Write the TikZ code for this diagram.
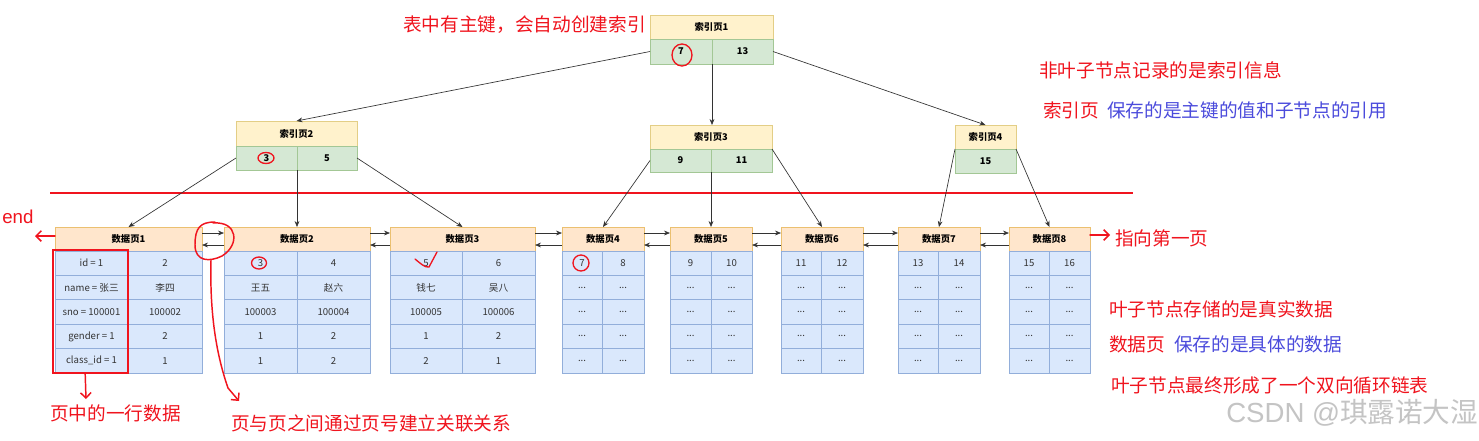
\documentclass[tikz,border=0pt]{standalone}
\usepackage{fontspec}
\setmainfont{Noto Sans CJK SC}
\newfontfamily\arialf{Liberation Sans}
\usetikzlibrary{arrows.meta}
\definecolor{ihfill}{HTML}{FFF2CC}
\definecolor{ihdraw}{HTML}{E3CE86}
\definecolor{ibfill}{HTML}{D5E8D4}
\definecolor{ibdraw}{HTML}{A3C795}
\definecolor{dhfill}{HTML}{FFE6CC}
\definecolor{dhdraw}{HTML}{EBC070}
\definecolor{dcfill}{HTML}{DAE8FC}
\definecolor{dcdraw}{HTML}{92AEDA}
\definecolor{annred}{HTML}{F0141E}
\definecolor{annblue}{HTML}{4B4BDC}
\definecolor{txtgray}{HTML}{333333}
\definecolor{wmgray}{HTML}{C4C4C4}
\tikzset{
 box/.style={rectangle, inner sep=0pt, outer sep=0pt, line width=0.75pt, font=\fontsize{7.2}{8}\selectfont, text=txtgray},
 ihead/.style={box, fill=ihfill, draw=ihdraw, font=\fontsize{7}{8}\selectfont\bfseries, text=black},
 ibody/.style={box, fill=ibfill, draw=ibdraw, font=\fontsize{7}{8}\selectfont\bfseries, text=black},
 dhead/.style={box, fill=dhfill, draw=dhdraw, font=\fontsize{7}{8}\selectfont\bfseries, text=black},
 dcell/.style={box, fill=dcfill, draw=dcdraw},
 rbox/.style={box, draw=annred, line width=2.2pt},
 tarrow/.style={draw=black!80, line width=0.5pt, -{Stealth[length=4.5pt,width=3.6pt]}},
 ann/.style={font=\fontsize{14}{16}\selectfont, text=annred, inner sep=0pt, anchor=west},
 hand/.style={draw=annred, line width=1.1pt, line cap=round, line join=round},
 handtip/.style={hand, -{Straight Barb[length=4pt,width=8pt]}},
}
\newcommand\boxat[7]{%
 \node[#1, minimum width={(#4-#3)*0.75pt}, minimum height={(#6-#5)*0.75pt}] (#2) at ({(#3+#4)/2},{(#5+#6)/2}) {#7};}
\newcommand\dpage[4]{\def\pgid{#1}\def\pL{#2}\def\pM{#3}\def\pR{#4}%
 \boxat{dhead}{d#1}{#2}{#4}{227}{251}{数据页#1}}
\newcommand\drow[3]{%
 \pgfmathsetmacro\rT{251+(#1-1)*24.4}\pgfmathsetmacro\rB{\rT+24.4}%
 \boxat{dcell}{d\pgid r#1a}{\pL}{\pM}{\rT}{\rB}{#2}%
 \boxat{dcell}{d\pgid r#1b}{\pM}{\pR}{\rT}{\rB}{#3}}
\begin{document}
\begin{tikzpicture}[x=0.75pt,y=-0.75pt]
\useasboundingbox (0,0) rectangle (1479,440);
\fill[white] (0,0) rectangle (1479,440);

% index pages
\boxat{ihead}{i1h}{650}{773}{15}{39}{索引页1}
\boxat{ibody}{i1a}{650}{712}{39}{64}{7}
\boxat{ibody}{i1b}{712}{773}{39}{64}{13}
\boxat{ihead}{i2h}{236}{357}{121}{146}{索引页2}
\boxat{ibody}{i2a}{236}{297}{146}{170}{3}
\boxat{ibody}{i2b}{297}{357}{146}{170}{5}
\boxat{ihead}{i3h}{650}{772}{125}{149}{索引页3}
\boxat{ibody}{i3a}{650}{711}{149}{172}{9}
\boxat{ibody}{i3b}{711}{772}{149}{172}{11}
\boxat{ihead}{i4h}{955}{1016}{125}{149}{索引页4}
\boxat{ibody}{i4b}{955}{1016}{149}{173}{15}

% separator
\draw[annred, line width=1.9pt] (50,193) -- (1133,193);

% data pages
\dpage{1}{55}{128}{202}
\drow{1}{id = 1}{2}\drow{2}{name = 张三}{李四}\drow{3}{sno = 100001}{100002}\drow{4}{gender = 1}{2}\drow{5}{class\_id = 1}{1}
\dpage{2}{224}{297}{370}
\drow{1}{3}{4}\drow{2}{王五}{赵六}\drow{3}{100003}{100004}\drow{4}{1}{2}\drow{5}{1}{2}
\dpage{3}{390}{462}{535}
\drow{1}{5}{6}\drow{2}{钱七}{吴八}\drow{3}{100005}{100006}\drow{4}{1}{2}\drow{5}{2}{1}
\dpage{4}{562}{602}{644}
\drow{1}{7}{8}\drow{2}{...}{...}\drow{3}{...}{...}\drow{4}{...}{...}\drow{5}{...}{...}
\dpage{5}{670}{711}{752}
\drow{1}{9}{10}\drow{2}{...}{...}\drow{3}{...}{...}\drow{4}{...}{...}\drow{5}{...}{...}
\dpage{6}{781}{821}{863}
\drow{1}{11}{12}\drow{2}{...}{...}\drow{3}{...}{...}\drow{4}{...}{...}\drow{5}{...}{...}
\dpage{7}{898}{938}{980}
\drow{1}{13}{14}\drow{2}{...}{...}\drow{3}{...}{...}\drow{4}{...}{...}\drow{5}{...}{...}
\dpage{8}{1009}{1049}{1090}
\drow{1}{15}{16}\drow{2}{...}{...}\drow{3}{...}{...}\drow{4}{...}{...}\drow{5}{...}{...}

% tree arrows
\draw[tarrow] (i1a.west) -- (i2h.north);
\draw[tarrow] (i1a.south east) -- (i1a.south east |- i3h.north);
\draw[tarrow] (i1b.east) -- (i4h.north);
\draw[tarrow] (i2a.west) -- (d1.north);
\draw[tarrow] (i2a.south east) -- (i2a.south east |- d2.north);
\draw[tarrow] (i2b.east) -- (d3.north);
\draw[tarrow] (i3a.west) -- (d4.north);
\draw[tarrow] (i3a.south east) -- (i3a.south east |- d5.north);
\draw[tarrow] (i3b.north east) -- (d6.north);
\draw[tarrow] (i4b.north west) -- (d7.north);
\draw[tarrow] (i4b.north east) -- (d8.north);

% linked list arrows
\foreach \i in {1,...,7}{
 \pgfmathtruncatemacro\j{\i+1}
 \draw[tarrow] ([yshift=-4.5pt]d\i.north east) -- ([yshift=-4.5pt]d\j.north west);
 \draw[tarrow] ([yshift=-13.5pt]d\j.north west) -- ([yshift=-13.5pt]d\i.north east);
}

% annotations
\node[ann] (t0) at (403,25) {表中有主键，会自动创建索引};
\node[ann] (t1) at (1039,70) {非叶子节点记录的是索引信息};
\node[ann] (t2) at (1043,110) {索引页};
\node[ann, text=annblue] (t3) at (1107,110) {保存的是主键的值和子节点的引用};
\node[ann] (t4) at (1115,238) {指向第一页};
\node[ann] (t5) at (1109,309) {叶子节点存储的是真实数据};
\node[ann] (t6) at (1109,344) {数据页};
\node[ann, text=annblue] (t7) at (1174,344) {保存的是具体的数据};
\node[ann] (t8) at (1111,385) {叶子节点最终形成了一个双向循环链表};
\node[ann, font=\arialf\fontsize{14}{16}\selectfont] (tend) at (2,217) {end};
\node[ann] (t9) at (50,413) {页中的一行数据};
\node[ann] (t10) at (231,423) {页与页之间通过页号建立关联关系};
\node[ann, text=wmgray, font=\fontsize{20.7}{22}\selectfont] (wm) at (1226,413) {{\arialf CSDN @}琪露诺大湿};

% red marks
\boxat{rbox}{rowbox}{53}{128}{250}{373}{}
\coordinate (e8) at (1110,235);
\draw[handtip] ([yshift=-6pt]d8.north east) -- (e8);
\coordinate (e1) at (35,236);
\draw[handtip] ([yshift=-6.75pt]d1.north west) -- (e1);
\coordinate (rb) at (86,399);
\draw[handtip] ([xshift=-4pt]rowbox.south) -- (rb);
\draw[hand] (213,223) .. controls (238,221) and (240,245) .. (222,256) .. controls (210,262) and (195,262) .. (195,245) .. controls (195,228) and (200,222) .. (215,222);
\coordinate (lk) at (239,401);
\draw[handtip] (211,260) .. controls (210,300) and (213,345) .. (228,388) -- (lk);
\draw[hand, line width=1pt] (682,55) ellipse [x radius=10, y radius=11];
\draw[hand, line width=1pt] (266,158) ellipse [x radius=8, y radius=5.5];
\draw[hand, line width=1pt] (259,263) ellipse [x radius=7.5, y radius=6];
\draw[hand, line width=1pt] (581,263) ellipse [x radius=8, y radius=8];
\draw[hand, line width=1pt] (415,259) .. controls (420,263) and (425,268) .. (429,267) -- (437,252);
\end{tikzpicture}
\end{document}
